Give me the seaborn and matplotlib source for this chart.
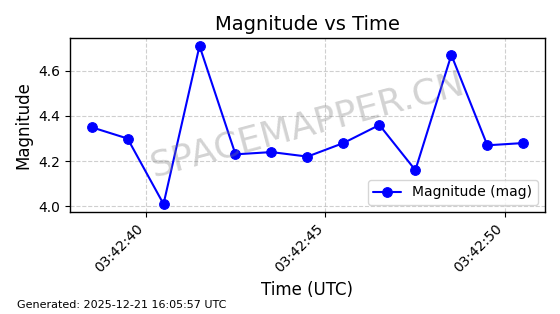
import matplotlib
matplotlib.use("Agg")
import matplotlib.pyplot as plt
import matplotlib.dates as mdates
import seaborn as sns
import pandas as pd

times = ["03:42:38.5", "03:42:39.5", "03:42:40.5", "03:42:41.5", "03:42:42.5",
         "03:42:43.5", "03:42:44.5", "03:42:45.5", "03:42:46.5", "03:42:47.5",
         "03:42:48.5", "03:42:49.5", "03:42:50.5"]
magnitudes = [4.35, 4.30, 4.01, 4.71, 4.23, 4.24, 4.22, 4.28, 4.36, 4.16, 4.67, 4.27, 4.28]

df = pd.DataFrame({
    "time": pd.to_datetime(["2025-12-21 " + t for t in times]),
    "mag": magnitudes,
})

sns.set_style("ticks")
plt.rcParams['font.family'] = ['DejaVu Sans']
plt.rcParams.update({
    "text.color": "black",
    "axes.labelcolor": "black",
    "xtick.color": "black",
    "ytick.color": "black",
    "axes.edgecolor": "black",
})

fig, ax = plt.subplots(figsize=(5.6, 3.14), dpi=100)
fig.subplots_adjust(left=0.125, right=0.973, top=0.879, bottom=0.325)

sns.lineplot(data=df, x="time", y="mag", ax=ax, color="blue", marker="o",
             markersize=7, markeredgecolor="blue", linewidth=1.5,
             label="Magnitude (mag)")

for s in ax.spines.values():
    s.set_visible(True)
    s.set_color("black")
    s.set_linewidth(1.0)

ax.grid(True, linestyle="--", color="#b0b0b0", alpha=0.6, linewidth=0.8)
ax.xaxis.set_major_locator(mdates.SecondLocator(bysecond=range(0, 60, 5)))
ax.xaxis.set_major_formatter(mdates.DateFormatter("%H:%M:%S"))
plt.setp(ax.get_xticklabels(), rotation=45, ha="right", fontsize=10)
ax.tick_params(axis="y", labelsize=10)
ax.tick_params(axis="both", direction="out", length=3.5, color="black")

ax.set_title("Magnitude vs Time", fontsize=14)
ax.set_xlabel("Time (UTC)", fontsize=12)
ax.set_ylabel("Magnitude", fontsize=12)
leg = ax.legend(loc="lower right", fontsize=10)
for t in leg.get_texts():
    t.set_color("black")

ax.text(0.5, 0.5, "SPACEMAPPER.CN", transform=ax.transAxes, fontsize=26,
        color="gray", alpha=0.35, rotation=15, ha="center", va="center")

fig.text(0.03, 0.02, "Generated: 2025-12-21 16:05:57 UTC", fontsize=8)

fig.savefig("out.png", dpi=100)
